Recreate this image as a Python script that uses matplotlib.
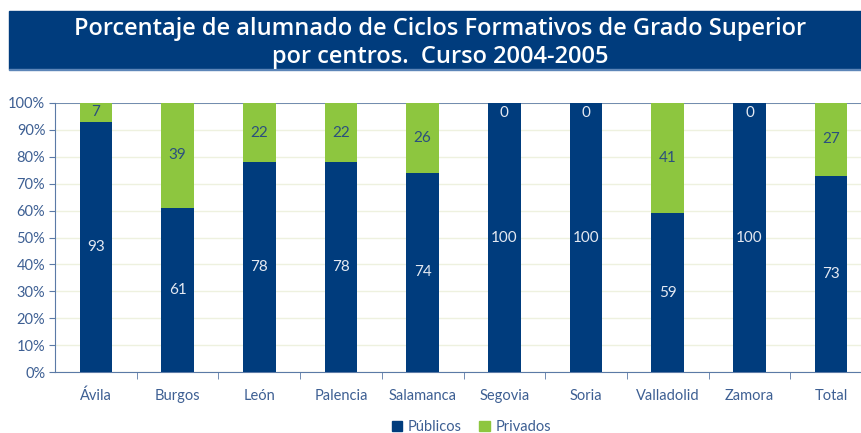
import matplotlib
matplotlib.use("Agg")
import matplotlib.pyplot as plt
from matplotlib.patches import Rectangle
import numpy as np

plt.rcParams['font.family'] = ['Lato', 'DejaVu Sans']

centros = ['Ávila', 'Burgos', 'León', 'Palencia', 'Salamanca', 'Segovia',
           'Soria', 'Valladolid', 'Zamora', 'Total']
publicos = [93, 61, 78, 78, 74, 100, 100, 59, 100, 73]
privados = [7, 39, 22, 22, 26, 0, 0, 41, 0, 27]

azul = '#003c7d'
verde = '#8dc63f'
eje = '#5b7aa6'
texto = '#3d5f93'

fig = plt.figure(figsize=(8.62, 4.33), dpi=100)

# banner del titulo
fig.patches.append(Rectangle((9 / 862, 1 - 69 / 433), 853 / 862, 58 / 433,
                             transform=fig.transFigure, color=azul, zorder=0))
fig.patches.append(Rectangle((9 / 862, 1 - 70 / 433), 853 / 862, 1.2 / 433,
                             transform=fig.transFigure, color='#5d86b8', zorder=1))
fig.text(440 / 862, 1 - 35 / 433,
         'Porcentaje de alumnado de Ciclos Formativos de Grado Superior',
         ha='center', va='baseline', color='white', fontsize=17,
         fontweight='semibold', family=['Open Sans', 'DejaVu Sans'])
fig.text(440 / 862, 1 - 63 / 433, 'por centros.  Curso 2004-2005',
         ha='center', va='baseline', color='white', fontsize=17,
         fontweight='semibold', family=['Open Sans', 'DejaVu Sans'])

ax = fig.add_axes([55 / 862, 61 / 433, 817 / 862, 269 / 433])
x = np.arange(len(centros))
ax.bar(x, publicos, width=0.4, color=azul, zorder=3)
ax.bar(x, privados, width=0.4, bottom=publicos, color=verde, zorder=3)

for i in range(len(centros)):
    ax.text(x[i], publicos[i] / 2, str(publicos[i]), ha='center', va='center',
            color='#e4e9f2', fontsize=11, zorder=4)
    if privados[i] == 0:
        yv, col = 96.3, '#e4e9f2'
    else:
        yv, col = publicos[i] + privados[i] / 2, '#2b4f7e'
    ax.text(x[i], yv, str(privados[i]), ha='center', va='center',
            color=col, fontsize=11, zorder=4)

ax.set_xlim(-0.5, len(centros) - 0.5)
ax.set_ylim(0, 100)
ax.set_yticks(np.arange(0, 101, 10))
ax.set_yticklabels([f'{v}%' for v in range(0, 101, 10)])
ax.set_xticks(x)
ax.set_xticklabels(centros)
ax.set_xticks(x[:-1] + 0.5, minor=True)
ax.tick_params(axis='x', which='major', length=0, pad=12, labelcolor=texto, labelsize=10.5)
ax.tick_params(axis='x', which='minor', length=5, color=eje, direction='out')
ax.tick_params(axis='y', length=4, color=eje, labelcolor=texto, labelsize=10.5, pad=3)

ax.grid(axis='y', color='#eef1df', linewidth=1, zorder=0)
ax.axhline(100, color=eje, linewidth=1.2, zorder=2)
for s in ['top', 'right']:
    ax.spines[s].set_visible(False)
ax.spines['left'].set_color(eje)
ax.spines['bottom'].set_color(eje)

h1 = Rectangle((0, 0), 1, 1, color=azul)
h2 = Rectangle((0, 0), 1, 1, color=verde)
leg = fig.legend([h1, h2], ['Públicos', 'Privados'], loc='center',
                 bbox_to_anchor=(0.547, 1 - 427 / 433), ncol=2, frameon=False,
                 fontsize=10.5, handlelength=0.7, handleheight=0.7,
                 handletextpad=0.4, columnspacing=1.2)
for t in leg.get_texts():
    t.set_color(texto)

fig.savefig('out.png', dpi=100)
